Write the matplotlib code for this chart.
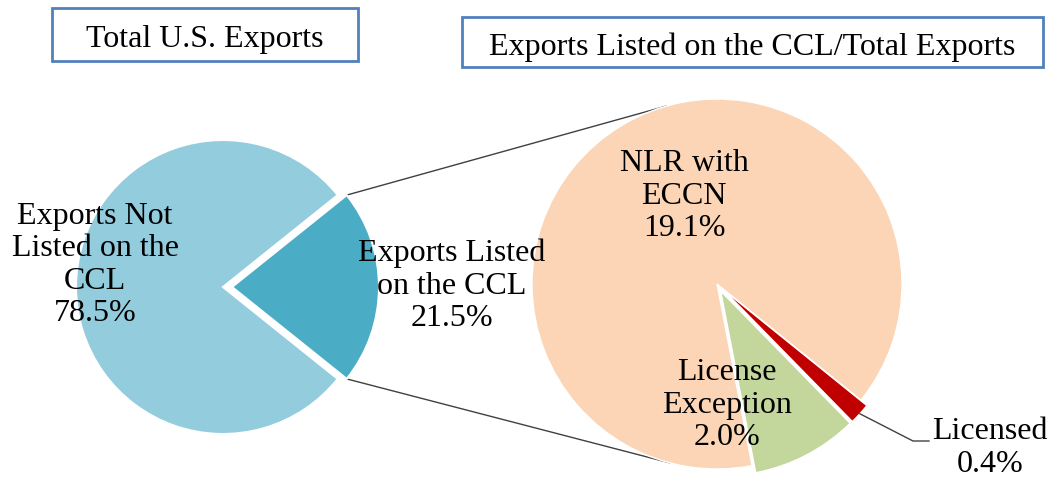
import matplotlib
matplotlib.use('Agg')
import matplotlib.pyplot as plt
import numpy as np
from matplotlib.patches import Rectangle

plt.rcParams.update({
    'font.family': ['Liberation Serif', 'DejaVu Serif'],
    'font.size': 23,
})

# ── Data ──
total_labels = ['Exports Not\nListed on the\nCCL', 'Exports Listed\non the CCL']
total_values = [78.5, 21.5]
ccl_labels = ['NLR with\nECCN', 'License\nException', 'Licensed']
ccl_values = [19.1, 2.0, 0.4]

left_colors = ['#93CDDD', '#4BACC6']
right_colors = ['#FBD5B5', '#C3D69B', '#C00000']

W, H = 1049, 478
fig = plt.figure(figsize=(W / 100, H / 100), dpi=100)
ax = fig.add_axes([0, 0, 1, 1])

# left pie (pixel-like coordinates, y upward); small slice centred on the right
# note: pie's explode offset is in data units here
lc, lr = (223, H - 287), 147
lstart = 180 * total_values[1] / sum(total_values)
w_left, _ = ax.pie(total_values, colors=left_colors, radius=lr, center=lc,
                   startangle=lstart, explode=[0, 9], frame=True,
                   wedgeprops=dict(edgecolor='white', linewidth=1.5))

# right pie
rc, rr = (717, H - 284), 185
rstart = -38.9
w_right, _ = ax.pie(ccl_values, colors=right_colors, radius=rr, center=rc,
                    startangle=rstart, explode=[0, 8, 8], frame=True,
                    wedgeprops=dict(edgecolor='white', linewidth=1))

# connector lines from exploded slice to the second pie
dark = w_left[1]
for ang, rang in [(dark.theta2, 106), (dark.theta1, -105)]:
    x0 = dark.center[0] + lr * np.cos(np.radians(ang))
    y0 = dark.center[1] + lr * np.sin(np.radians(ang))
    x1 = rc[0] + rr * np.cos(np.radians(rang))
    y1 = rc[1] + rr * np.sin(np.radians(rang))
    ax.plot([x0, x1], [y0, y1], color='#404040', lw=1, zorder=0)

# slice labels
ls = 1.15
ax.text(95, H - 265, f'{total_labels[0]}\n{total_values[0]:.1f}%', ha='center', va='center',
        linespacing=ls)
ax.text(452, H - 286, f'{total_labels[1]}\n{total_values[1]:.1f}%', ha='center', va='center',
        linespacing=ls)
ax.text(684, H - 196, f'{ccl_labels[0]}\n{ccl_values[0]:.1f}%', ha='center', va='center',
        linespacing=ls)
ax.text(727, H - 405, f'{ccl_labels[1]}\n{ccl_values[1]:.1f}%', ha='center', va='center',
        linespacing=ls)
ax.text(990, H - 448, f'{ccl_labels[2]}\n{ccl_values[2]:.1f}%', ha='center', va='center',
        linespacing=ls)

# leader line for the tiny slice
red = w_right[2]
mid = np.radians((red.theta1 + red.theta2) / 2)
px = red.center[0] + rr * np.cos(mid)
py = red.center[1] + rr * np.sin(mid)
ax.plot([px, 913, 929], [py, H - 441, H - 441], color='#404040', lw=1)

# title boxes
for (x0, y0, x1, y1), base, txt in [((52, 8, 358, 61), 47, 'Total U.S. Exports'),
                                    ((462, 17, 1043, 67), 55,
                                     'Exports Listed on the CCL/Total Exports')]:
    ax.add_patch(Rectangle((x0, H - y1), x1 - x0, y1 - y0, fill=False,
                           edgecolor='#4F81BD', linewidth=2))
    ax.text((x0 + x1) / 2, H - base, txt, ha='center', va='baseline')

ax.set_xlim(0, W)
ax.set_ylim(0, H)
ax.set_aspect('equal')
ax.axis('off')

fig.savefig('out.png', dpi=100)
